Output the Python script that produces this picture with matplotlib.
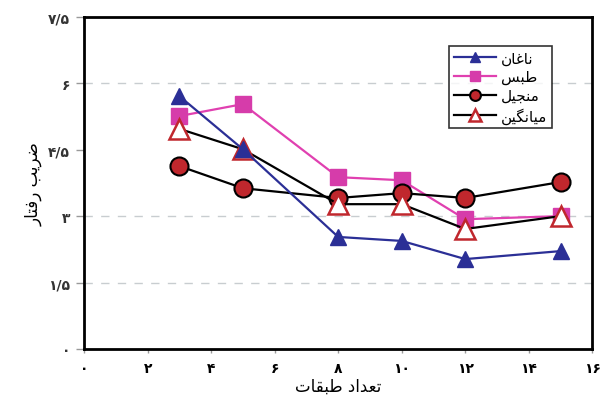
import matplotlib as mpl
mpl.use('Agg')
import matplotlib.pyplot as plt

# data
stories = [3, 5, 8, 10, 12, 15]
naghan = [5.71, 4.51, 2.53, 2.44, 2.03, 2.21]
tabas = [5.26, 5.53, 3.88, 3.81, 2.93, 3.00]
manjil = [4.13, 3.63, 3.41, 3.52, 3.41, 3.77]
average = [4.97, 4.51, 3.27, 3.27, 2.71, 3.00]
xticks = [0, 2, 4, 6, 8, 10, 12, 14, 16]
yticks = [0, 1.5, 3, 4.5, 6, 7.5]
grid_y = [1.5, 3, 6]

# minimal persian shaping (matplotlib has no arabic shaping)
FORMS = {
    'ا': ('\uFE8D', '\uFE8E'),
    'د': ('\uFEA9', '\uFEAA'),
    'ر': ('\uFEAD', '\uFEAE'),
    'ب': ('\uFE8F', '\uFE90', '\uFE91', '\uFE92'),
    'ت': ('\uFE95', '\uFE96', '\uFE97', '\uFE98'),
    'ج': ('\uFE9D', '\uFE9E', '\uFE9F', '\uFEA0'),
    'س': ('\uFEB1', '\uFEB2', '\uFEB3', '\uFEB4'),
    'ض': ('\uFEBD', '\uFEBE', '\uFEBF', '\uFEC0'),
    'ط': ('\uFEC1', '\uFEC2', '\uFEC3', '\uFEC4'),
    'ع': ('\uFEC9', '\uFECA', '\uFECB', '\uFECC'),
    'غ': ('\uFECD', '\uFECE', '\uFECF', '\uFED0'),
    'ف': ('\uFED1', '\uFED2', '\uFED3', '\uFED4'),
    'ق': ('\uFED5', '\uFED6', '\uFED7', '\uFED8'),
    'ل': ('\uFEDD', '\uFEDE', '\uFEDF', '\uFEE0'),
    'م': ('\uFEE1', '\uFEE2', '\uFEE3', '\uFEE4'),
    'ن': ('\uFEE5', '\uFEE6', '\uFEE7', '\uFEE8'),
    'ی': ('\uFBFC', '\uFBFD', '\uFBFE', '\uFBFF'),
    'گ': ('\uFB92', '\uFB93', '\uFB94', '\uFB95'),
}


def shape(text):
    out = []
    chars = list(text)
    for i, c in enumerate(chars):
        if c not in FORMS:
            out.append(c)
            continue
        prev = chars[i - 1] if i > 0 else None
        nxt = chars[i + 1] if i < len(chars) - 1 else None
        join_prev = prev in FORMS and len(FORMS[prev]) == 4
        join_next = nxt in FORMS and len(FORMS[c]) == 4
        f = FORMS[c]
        if join_prev and join_next:
            out.append(f[3])
        elif join_prev:
            out.append(f[1])
        elif join_next:
            out.append(f[2])
        else:
            out.append(f[0])
    return ''.join(out)[::-1]


def fa_num(v):
    s = ('%g' % v).replace('.', '/')
    return s.translate(str.maketrans('0123456789', '۰۱۲۳۴۵۶۷۸۹'))


plt.rcParams['font.family'] = ['DejaVu Sans']

fig = plt.figure(figsize=(6.05, 4.06), dpi=100)
ax = fig.add_axes([0.139, 0.138, 0.84, 0.818])

for g in grid_y:
    ax.axhline(g, color='#c8cdd0', lw=1.0, ls=(0, (6, 6)), zorder=0)

ax.plot(stories, naghan, color='#2b2f96', lw=1.6, marker='^', ms=12,
        mfc='#2b2f96', mec='#2b2f96', label=shape('ناغان'), zorder=3)
ax.plot(stories, tabas, color='#e040b0', lw=1.6, marker='s', ms=11,
        mfc='#d63caa', mec='#d63caa', label=shape('طبس'), zorder=2)
ax.plot(stories, manjil, color='black', lw=1.6, marker='o', ms=13,
        mfc='#c0272d', mec='black', mew=1.5, label=shape('منجیل'), zorder=2)
ax.plot(stories, average, color='black', lw=1.6, marker='^', ms=14,
        mfc='white', mec='#c0272d', mew=1.8, label=shape('میانگین'), zorder=2)

ax.set_xlim(0, 16)
ax.set_ylim(0, 7.5)
ax.set_xticks(xticks)
ax.set_xticklabels([fa_num(v) for v in xticks], fontsize=10, fontweight='bold')
ax.set_yticks(yticks)
ax.set_yticklabels([fa_num(v) for v in yticks], fontsize=10, fontweight='bold',
                   color='#333333')
ax.tick_params(axis='y', length=6, width=1, color='#999999', pad=4)
ax.tick_params(axis='x', length=3, width=1, color='#999999', pad=6)
for sp in ax.spines.values():
    sp.set_linewidth(2)
    sp.set_color('black')

ax.set_xlabel(shape('تعداد طبقات'), fontsize=12, labelpad=1)
ax.set_ylabel(shape('ضریب رفتار'), fontsize=12, labelpad=4)

leg = ax.legend(loc='upper left', bbox_to_anchor=(0.718, 0.913), fontsize=11,
                frameon=True, fancybox=False, edgecolor='black',
                markerscale=0.6, handlelength=2.8, borderpad=0.3,
                labelspacing=0.25, handletextpad=0.3, borderaxespad=0)
leg.get_frame().set_linewidth(1.2)

fig.savefig('out.png', dpi=100)
